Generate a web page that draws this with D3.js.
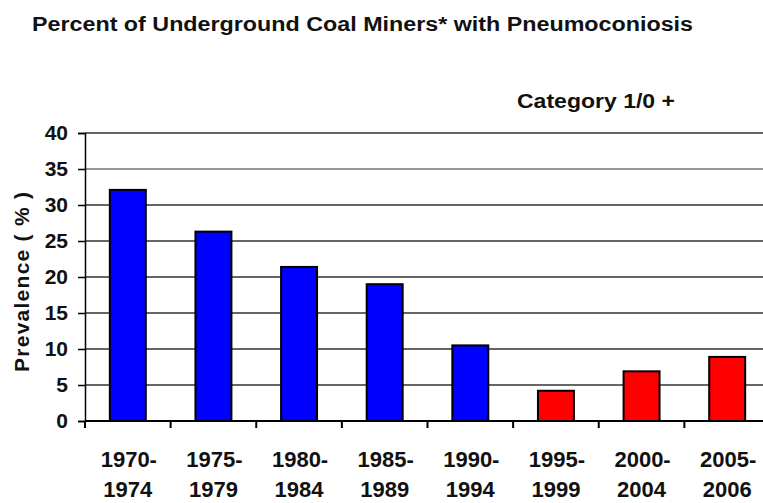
<!DOCTYPE html>
<html>
<head>
<meta charset="utf-8">
<style>
body { margin: 0; background: #fff; }
text { font-family: "Liberation Sans", Arial, sans-serif; font-weight: bold; fill: #111; }
.grid line { stroke: #333; stroke-width: 1.5px; }
.bar { stroke: #000; stroke-width: 2px; }
</style>
<script src="https://d3js.org/d3.v7.min.js"></script>
</head>
<body>
<svg width="763" height="503"></svg>
<script>

var periodStart = ["1970-", "1975-", "1980-", "1985-", "1990-", "1995-", "2000-", "2005-"];
var periodEnd   = ["1974", "1979", "1984", "1989", "1994", "1999", "2004", "2006"];
var prevalence  = [32.1, 26.3, 21.4, 19.0, 10.5, 4.2, 6.9, 8.9];
var yTicks      = [0, 5, 10, 15, 20, 25, 30, 35, 40];

var svg = d3.select("svg");

var x = d3.scaleBand()
    .domain(periodStart)
    .range([85, 770])
    .padding(0);

var y = d3.scaleLinear()
    .domain([0, 40])
    .range([421, 133]);

// blue for the early periods, red from 1995 on
var color = d3.scaleThreshold()
    .domain([1995])
    .range(["#0000ff", "#ff0000"]);

// title
svg.append("text")
    .attr("x", 32)
    .attr("y", 31)
    .attr("font-size", 20)
    .attr("textLength", 661)
    .attr("lengthAdjust", "spacingAndGlyphs")
    .text("Percent of Underground Coal Miners* with Pneumoconiosis");

svg.append("text")
    .attr("x", 517)
    .attr("y", 108)
    .attr("font-size", 20)
    .attr("textLength", 158)
    .attr("lengthAdjust", "spacingAndGlyphs")
    .text("Category 1/0 +");

// grid lines
svg.append("g")
    .attr("class", "grid")
    .selectAll("line")
    .data(yTicks.filter(function(d) { return d > 0; }))
    .enter().append("line")
    .attr("x1", 85)
    .attr("x2", 763)
    .attr("y1", function(d) { return y(d); })
    .attr("y2", function(d) { return y(d); })
    .style("stroke", function(d) { return d === 35 ? "#999" : null; })
    .style("stroke-width", function(d) { return d === 35 ? "2px" : null; });

// bars
svg.append("g")
    .selectAll("rect")
    .data(prevalence)
    .enter().append("rect")
    .attr("class", "bar")
    .attr("x", function(d, i) { return x(periodStart[i]) + x.bandwidth() * 0.29; })
    .attr("width", x.bandwidth() * 0.42)
    .attr("y", function(d) { return y(d); })
    .attr("height", function(d) { return y(0) - y(d); })
    .attr("fill", function(d, i) { return color(parseInt(periodStart[i])); });

// y axis
var yAxis = svg.append("g")
    .attr("transform", "translate(85,0)")
    .call(d3.axisLeft(y).tickValues(yTicks).tickSize(7).tickPadding(10));
yAxis.select(".domain").attr("stroke", "#000").attr("stroke-width", 1.5);
yAxis.selectAll(".tick line").attr("stroke", "#000").attr("stroke-width", 1.5);
yAxis.selectAll(".tick text")
    .attr("font-size", 21)
    .attr("font-family", "Liberation Sans, Arial, sans-serif")
    .attr("font-weight", "bold")
    .attr("fill", "#111");

// x axis: ticks on band boundaries
var xAxis = svg.append("g").attr("transform", "translate(0,421)");
xAxis.append("line")
    .attr("x1", 85).attr("x2", 763)
    .attr("stroke", "#000").attr("stroke-width", 2);
xAxis.selectAll(".tk")
    .data(periodStart)
    .enter().append("line")
    .attr("class", "tk")
    .attr("x1", function(d) { return x(d); })
    .attr("x2", function(d) { return x(d); })
    .attr("y1", 0).attr("y2", 7)
    .attr("stroke", "#000").attr("stroke-width", 2);

var lbl = xAxis.selectAll(".lbl")
    .data(periodStart)
    .enter().append("text")
    .attr("class", "lbl")
    .attr("text-anchor", "middle")
    .attr("font-size", 22);
lbl.append("tspan")
    .attr("x", function(d) { return x(d) + x.bandwidth() / 2 + 1; })
    .attr("y", 46)
    .text(function(d) { return d; });
lbl.append("tspan")
    .attr("x", function(d) { return x(d) + x.bandwidth() / 2; })
    .attr("y", 76)
    .text(function(d, i) { return periodEnd[i]; });

// y label
svg.append("text")
    .attr("transform", "translate(29,282) rotate(-90)")
    .attr("text-anchor", "middle")
    .attr("font-size", 21)
    .attr("textLength", 180)
    .attr("lengthAdjust", "spacing")
    .text("Prevalence ( % )");

</script>
</body>
</html>
